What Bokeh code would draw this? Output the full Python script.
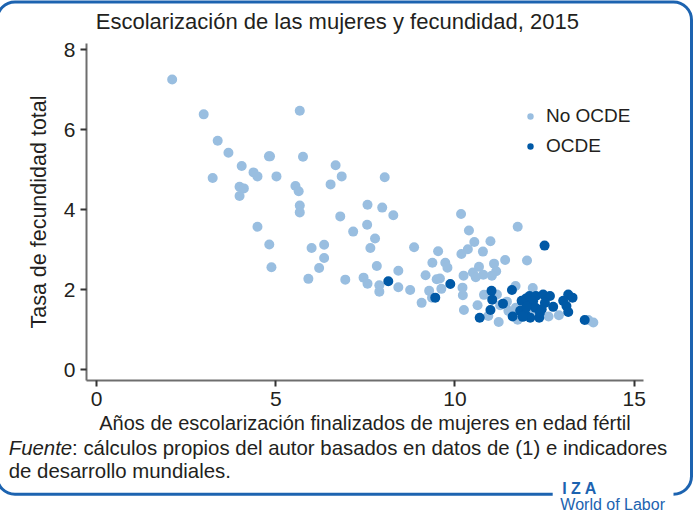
from urllib.parse import quote
from bokeh.plotting import figure
from bokeh.models import Label, Range1d, FixedTicker
from bokeh.embed import file_html
from bokeh.resources import INLINE

# ---------------- data ----------------
series_names = ["No OCDE", "OCDE"]

x_no_ocde = [2.11, 2.99, 5.67, 3.38, 3.68, 4.81, 4.84, 5.76, 4.05, 6.67,
             3.24, 4.38, 4.49, 5.02, 6.84, 3.99, 4.11, 5.55, 5.64, 6.53,
             3.99, 5.67, 5.67, 6.80, 4.49, 7.16, 4.82, 6.00, 6.35, 6.35,
             4.88, 6.21, 5.91, 6.94, 7.45,
             8.04, 7.56, 7.97, 8.28, 10.17, 7.55, 7.77, 7.64, 8.86, 10.39,
             11.75, 10.99, 10.54, 10.36, 10.18, 10.78, 9.53, 9.37, 9.73, 9.79,
             11.09, 11.40, 12.01, 10.67, 11.15, 10.50, 10.58, 10.79, 11.03, 10.24,
             9.18, 9.49, 9.58, 7.82, 8.42, 7.56, 7.89, 7.89, 8.42, 8.75,
             9.28, 9.07, 9.36, 9.62, 10.21, 10.22, 10.25, 10.63, 10.81, 10.93,
             11.22, 11.69, 12.17, 11.17, 12.61, 12.90, 13.72, 13.86,
             11.26, 11.49, 11.45, 11.70, 11.60, 11.75, 12.10, 12.05]
y_no_ocde = [7.25, 6.38, 6.47, 5.72, 5.42, 5.33, 5.33, 5.32, 5.09, 5.11,
             4.79, 4.93, 4.83, 4.83, 4.83, 4.57, 4.53, 4.59, 4.46, 4.63,
             4.34, 4.10, 3.93, 3.83, 3.57, 3.45, 3.13, 3.04, 3.12, 2.79,
             2.56, 2.54, 2.27, 2.25, 2.30,
             4.81, 4.12, 4.05, 3.86, 3.89, 3.62, 3.28, 3.04, 3.06, 3.48,
             3.57, 3.21, 3.19, 3.01, 2.89, 2.95, 2.96, 2.67, 2.67, 2.55,
             2.65, 2.74, 2.73, 2.57, 2.46, 2.43, 2.31, 2.37, 2.35, 2.35,
             2.36, 2.26, 2.28, 2.59, 2.47, 2.15, 2.11, 1.95, 2.06, 1.99,
             1.97, 1.67, 1.80, 2.02, 2.05, 1.86, 1.49, 1.61, 1.87, 1.34,
             1.19, 2.09, 2.04, 1.88, 1.33, 1.36, 1.24, 1.18,
             1.61, 1.47, 1.70, 1.55, 1.40, 1.25, 1.45, 1.62]

x_ocde = [12.50, 8.14, 9.87, 9.45, 11.02, 11.04, 11.34, 10.99, 10.69, 11.59,
          11.61, 11.86, 11.98, 12.08, 12.26, 11.82, 11.96, 12.10, 12.18, 12.24,
          12.46, 12.65, 12.51, 12.42, 12.35, 12.74, 13.16, 13.28, 13.02, 13.11,
          13.16, 13.62, 11.89, 12.00, 12.37]
y_ocde = [3.10, 2.21, 2.14, 1.80, 1.97, 1.75, 1.65, 1.49, 1.30, 1.99,
          1.33, 1.72, 1.78, 1.84, 1.84, 1.47, 1.39, 1.30, 1.71, 1.55,
          1.88, 1.84, 1.67, 1.51, 1.30, 1.57, 1.88, 1.80, 1.72, 1.59,
          1.44, 1.24, 1.32, 1.57, 1.42]

x_ticks = [0, 5, 10, 15]
y_ticks = [0, 2, 4, 6, 8]

title_text = "Escolarización de las mujeres y fecundidad, 2015"
x_label = "Años de escolarización finalizados de mujeres en edad fértil"
y_label = "Tasa de fecundidad total"
source_italic = "Fuente"
source_line1 = ": cálculos propios del autor basados en datos de (1) e indicadores"
source_line2 = "de desarrollo mundiales."
logo_top = "I Z A"
logo_bottom = "World of Labor"

# ---------------- style ----------------
FONT = "Liberation Sans"
TEXT = "#231f20"
LIGHT = "#99bee0"
DARK = "#0059a6"
FRAME_BLUE = "#1c63b0"

W, H = 693, 513
border_svg = (
    f"<svg xmlns='http://www.w3.org/2000/svg' width='{W}' height='{H}'>"
    "<path d='M552.7 494.3 H15 A18 18 0 0 1 -3 476.3 V20 A18 18 0 0 1 15 2 "
    "H673.5 A18 18 0 0 1 691.5 20 V476.3 A18 18 0 0 1 673.5 494.3' "
    f"fill='none' stroke='{FRAME_BLUE}' stroke-width='3'/></svg>"
)

p = figure(width=W, height=H, output_backend="svg", toolbar_location=None,
           x_range=Range1d(-0.28, 15.26), y_range=Range1d(-0.27, 8.15),
           min_border_left=86, min_border_right=50, min_border_top=43,
           min_border_bottom=133)
p.styles = {
    "background-image": f'url("data:image/svg+xml,{quote(border_svg)}")',
    "background-repeat": "no-repeat",
    "background-position": "0px 0px",
}
p.outline_line_color = None
p.xgrid.visible = False
p.ygrid.visible = False
p.background_fill_alpha = 0
p.border_fill_alpha = 0

p.scatter(x_no_ocde, y_no_ocde, size=10, color=LIGHT, line_color=None,
          legend_label=series_names[0])
p.scatter(x_ocde, y_ocde, size=10, color=DARK, line_color=None,
          legend_label=series_names[1])

for ax, ticks, lab in ((p.xaxis[0], x_ticks, x_label), (p.yaxis[0], y_ticks, y_label)):
    ax.ticker = FixedTicker(ticks=ticks)
    ax.axis_line_color = "#6e6e6e"
    ax.axis_line_width = 2
    ax.major_tick_line_color = "#333333"
    ax.major_tick_line_width = 2
    ax.major_tick_out = 6
    ax.major_tick_in = 0
    ax.minor_tick_out = 0
    ax.minor_tick_in = 0
    ax.major_label_text_font = FONT
    ax.major_label_text_font_size = "21px"
    ax.major_label_text_color = TEXT
    ax.axis_label = lab
    ax.axis_label_text_font = FONT
    ax.axis_label_text_font_style = "normal"
    ax.axis_label_text_color = TEXT
p.xaxis[0].axis_label_text_font_size = "20px"
p.yaxis[0].axis_label_text_font_size = "21.5px"
p.xaxis[0].axis_label_standoff = 3
p.yaxis[0].axis_label_standoff = 10
p.yaxis[0].major_label_standoff = 5

leg = p.legend[0]
leg.location = (436, 223)
leg.border_line_color = None
leg.background_fill_alpha = 0
leg.label_text_font = FONT
leg.label_text_font_size = "19px"
leg.label_text_color = TEXT
leg.glyph_width = 16
leg.glyph_height = 20
leg.label_standoff = 8
leg.spacing = 8
leg.padding = 5
leg.margin = 0

# texts outside the frame: placed in side panels (not clipped), positioned in data units
def add_label(x, y, text, size, side, color=TEXT, style="normal"):
    p.add_layout(Label(x=x, y=y, text=text, text_font=FONT, text_font_size=size,
                       text_color=color, text_font_style=style, text_align="left",
                       text_baseline="middle"), side)

add_label(-0.02, 8.70, title_text, "22px", "above")
add_label(12.94, -3.37, logo_bottom, "16px", "above", color=FRAME_BLUE)
add_label(12.99, -2.96, logo_top, "16px", "right", color=FRAME_BLUE, style="bold")
add_label(-2.45, -1.945, source_italic, "20.4px", "below", style="italic")
add_label(-0.682, -1.945, source_line1, "20.4px", "below")
add_label(-2.45, -2.54, source_line2, "20.4px", "below")

open("out.html", "w").write(file_html(p, INLINE))
